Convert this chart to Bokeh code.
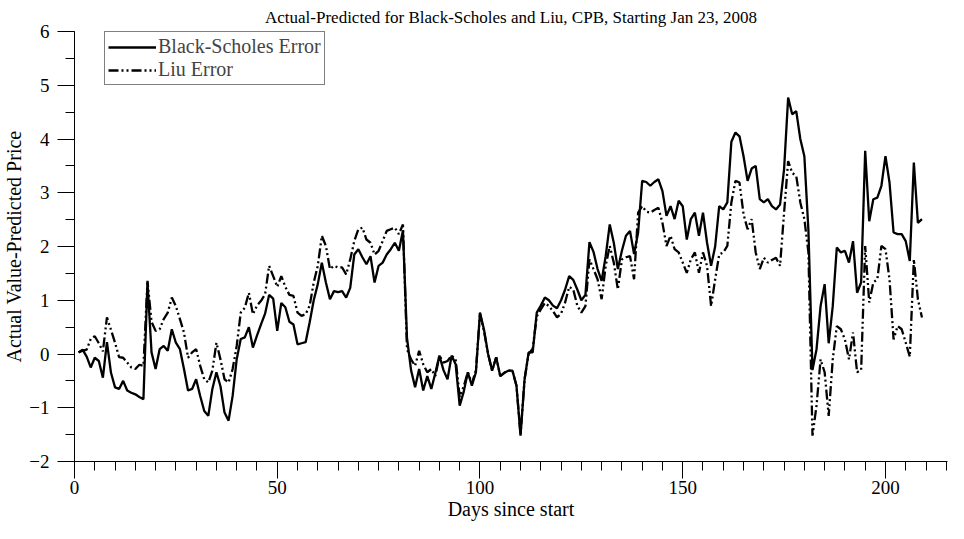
from bokeh.plotting import figure
from bokeh.models import Range1d, SingleIntervalTicker
from bokeh.embed import file_html
from bokeh.resources import INLINE

days = list(range(1, 210))

bs_error = [
    0.03, 0.08, -0.05, -0.25, -0.07, -0.13, -0.44, 0.22, -0.35, -0.62,
    -0.65, -0.50, -0.68, -0.72, -0.75, -0.80, -0.84, 1.33, 0.03, -0.28,
    0.09, 0.15, 0.06, 0.46, 0.21, 0.09, -0.28, -0.68, -0.65, -0.47,
    -0.78, -1.06, -1.15, -0.65, -0.34, -0.60, -1.09, -1.24, -0.78, -0.10,
    0.28, 0.31, 0.50, 0.12, 0.34, 0.55, 0.75, 1.10, 1.03, 0.43,
    0.95, 0.87, 0.60, 0.55, 0.18, 0.20, 0.22, 0.59, 1.00, 1.30,
    1.70, 1.33, 1.02, 1.17, 1.15, 1.17, 1.05, 1.23, 1.85, 1.95,
    1.80, 1.67, 1.82, 1.33, 1.64, 1.70, 1.85, 1.95, 2.07, 1.92,
    2.30, 0.30, -0.30, -0.62, -0.28, -0.68, -0.41, -0.65, -0.35, -0.03,
    -0.30, -0.47, -0.03, -0.19, -0.96, -0.70, -0.34, -0.59, -0.34, 0.77,
    0.45, 0.00, -0.31, -0.06, -0.41, -0.35, -0.31, -0.31, -0.59, -1.52,
    -0.47, 0.03, 0.03, 0.77, 0.90, 1.05, 1.00, 0.90, 0.85, 1.00,
    1.20, 1.45, 1.38, 1.20, 1.00, 1.10, 2.08, 1.90, 1.58, 1.36,
    1.82, 2.41, 2.07, 1.58, 1.92, 2.20, 2.29, 1.86, 2.26, 3.22,
    3.20, 3.13, 3.20, 3.25, 3.03, 2.57, 2.75, 2.51, 2.85, 2.75,
    2.13, 2.51, 2.63, 2.20, 2.63, 2.07, 1.64, 2.00, 2.75, 2.69,
    2.82, 3.95, 4.12, 4.05, 3.68, 3.22, 3.45, 3.50, 2.88, 2.82,
    2.88, 2.75, 2.69, 2.78, 3.44, 4.77, 4.46, 4.52, 4.00, 3.68,
    2.30, -0.30, 0.09, 0.89, 1.30, 0.20, 0.89, 1.98, 1.89, 1.92,
    1.70, 2.10, 1.14, 1.33, 3.78, 2.47, 2.88, 2.91, 3.13, 3.68,
    3.19, 2.26, 2.23, 2.23, 2.10, 1.73, 3.56, 2.44, 2.51,
]

liu_error = [
    0.03, 0.06, 0.08, 0.28, 0.33, 0.20, 0.05, 0.68, 0.45, 0.21,
    -0.06, -0.07, -0.16, -0.25, -0.28, -0.20, -0.22, 1.36, 0.60, 0.43,
    0.46, 0.65, 0.77, 1.05, 0.89, 0.65, 0.40, -0.07, 0.03, 0.09,
    -0.22, -0.47, -0.53, -0.31, 0.21, -0.10, -0.47, -0.53, -0.28, 0.15,
    0.77, 0.86, 1.14, 0.74, 0.90, 0.99, 1.11, 1.64, 1.45, 1.25,
    1.45, 1.25, 1.10, 1.08, 0.77, 0.71, 0.74, 0.90, 1.33, 1.64,
    2.20, 2.01, 1.58, 1.64, 1.61, 1.61, 1.48, 1.76, 2.10, 2.32,
    2.35, 2.13, 2.07, 1.85, 1.92, 2.10, 2.29, 2.32, 2.35, 2.23,
    2.41, 0.09, -0.10, -0.22, 0.06, -0.19, -0.34, -0.28, -0.41, -0.03,
    -0.16, -0.13, -0.03, -0.10, -0.80, -0.60, -0.34, -0.55, -0.30, 0.75,
    0.42, 0.00, -0.31, -0.06, -0.41, -0.35, -0.31, -0.31, -0.59, -1.50,
    -0.47, 0.00, 0.10, 0.70, 0.83, 0.95, 0.89, 0.80, 0.68, 0.75,
    0.96, 1.25, 1.20, 0.90, 0.77, 0.89, 1.76, 1.58, 1.39, 1.02,
    1.64, 2.01, 1.70, 1.20, 1.76, 1.80, 1.82, 1.39, 2.63, 2.75,
    2.65, 2.63, 2.68, 2.72, 2.44, 2.01, 2.20, 1.95, 1.89, 1.70,
    1.51, 1.76, 1.89, 1.51, 1.89, 1.64, 0.89, 1.39, 1.85, 1.89,
    2.01, 2.82, 3.22, 3.19, 2.60, 2.32, 2.51, 1.89, 1.58, 1.79,
    1.70, 1.75, 1.79, 1.64, 2.63, 3.59, 3.37, 3.31, 2.82, 2.51,
    1.89, -1.52, -0.96, -0.10, -0.34, -1.15, -0.10, 0.52, 0.46, 0.27,
    -0.10, 0.40, -0.34, -0.30, 2.01, 0.96, 1.33, 1.39, 2.01, 1.95,
    1.39, 0.27, 0.52, 0.46, 0.21, -0.05, 1.76, 1.02, 0.68,
]

x_major = 50
y_major = 1

FONT = "Liberation Serif"

p = figure(
    frame_width=873, frame_height=430,
    x_range=Range1d(0, 215.3), y_range=Range1d(-2, 6),
    output_backend="svg", toolbar_location=None,
    title="Actual-Predicted for Black-Scholes and Liu, CPB, Starting Jan 23, 2008",
    min_border_left=66, min_border_right=9, min_border_top=31, min_border_bottom=62,
)
p.outline_line_color = None
p.grid.visible = False
p.background_fill_color = "white"
p.border_fill_color = "white"

p.title.align = "center"
p.title.text_font = FONT
p.title.text_font_style = "normal"
p.title.text_font_size = "17px"
p.title.text_color = "black"
p.title.standoff = 9

p.xaxis.ticker = SingleIntervalTicker(interval=x_major, num_minor_ticks=10)
p.yaxis.ticker = SingleIntervalTicker(interval=y_major, num_minor_ticks=2)
p.xaxis.axis_label = "Days since start"
p.yaxis.axis_label = "Actual Value-Predicted Price"

for ax in (p.xaxis[0], p.yaxis[0]):
    ax.axis_line_color = "black"
    ax.axis_line_width = 1
    ax.major_tick_line_color = "black"
    ax.minor_tick_line_color = "black"
    ax.major_tick_in = 0
    ax.minor_tick_in = 0
    ax.major_tick_out = 17
    ax.minor_tick_out = 9
    ax.major_label_text_font = FONT
    ax.major_label_text_font_size = "19px"
    ax.major_label_text_color = "black"
    ax.axis_label_text_font = FONT
    ax.axis_label_text_font_size = "20px"
    ax.axis_label_text_font_style = "normal"
    ax.axis_label_text_color = "black"
    ax.axis_label_standoff = 1

p.xaxis[0].major_label_standoff = 2
p.yaxis[0].major_label_standoff = 8

p.line(days, bs_error, line_color="black", line_width=2.3, legend_label="Black-Scholes Error")
p.line(days, liu_error, line_color="black", line_width=2.3, line_dash="10 3 2 3 2 3",
       legend_label="Liu Error")

lg = p.legend[0]
lg.location = (30, 376)
lg.border_line_color = "black"
lg.border_line_width = 1
lg.background_fill_alpha = 1
lg.label_text_font = FONT
lg.label_text_font_size = "20px"
lg.label_height = 22
lg.glyph_width = 48
lg.glyph_height = 22
lg.label_standoff = 2
lg.spacing = 0
lg.padding = 3
lg.margin = 0

open("out.html", "w").write(file_html(p, INLINE))
